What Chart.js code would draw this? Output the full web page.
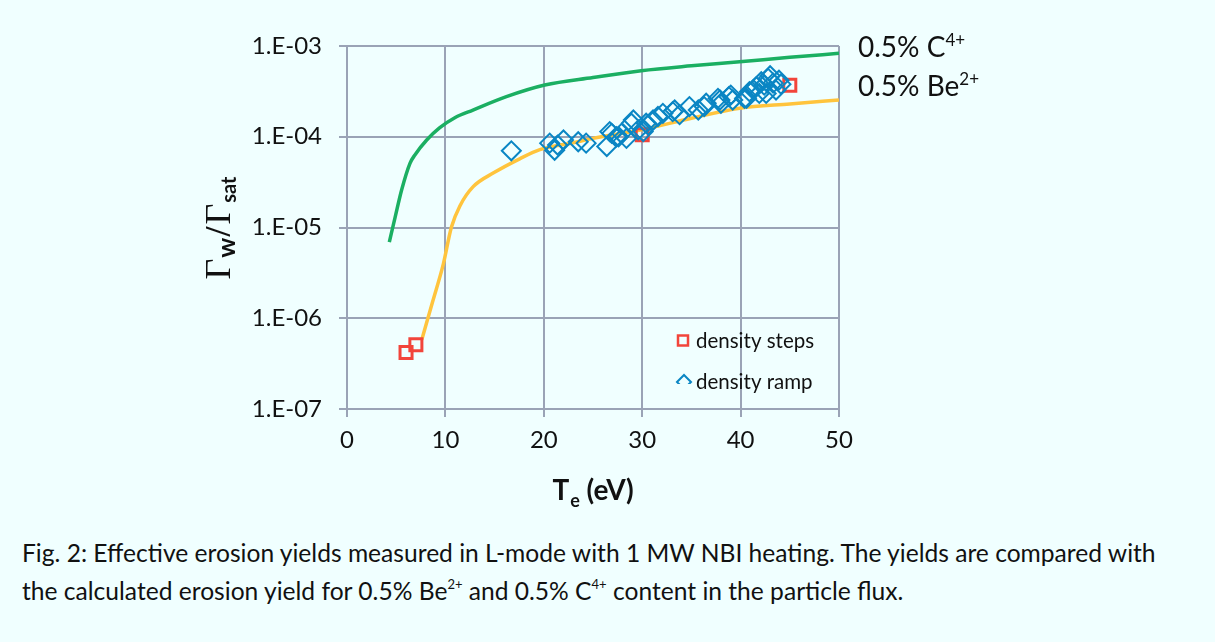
<!DOCTYPE html>
<html><head><meta charset="utf-8">
<script src="https://cdn.jsdelivr.net/npm/chart.js@4.4.0/dist/chart.umd.min.js"></script>
<style>
html,body{margin:0;padding:0;background:#F0FFFF;}
#wrap{position:relative;width:1215px;height:642px;background:#F0FFFF;overflow:hidden;}
#box{position:absolute;left:0;top:0;width:1215px;height:520px;}
#cap{position:absolute;left:22px;top:534px;font-family:Lato,"Open Sans",sans-serif;font-size:24.6px;line-height:38px;color:#111;white-space:nowrap;}
#cap sup{font-size:13px;vertical-align:11px;line-height:0;}
</style></head><body>
<div id="wrap">
<div id="box"><canvas id="c"></canvas></div>
<div id="cap">Fig. 2: Effective erosion yields measured in L-mode with 1 MW NBI heating. The yields are compared with<br>the calculated erosion yield for 0.5% Be<sup>2+</sup> and 0.5% C<sup>4+</sup> content in the particle flux.</div>
</div>
<script>
// ---- data ----
const xTickValues = [0, 10, 20, 30, 40, 50];
const yTickValues = [1e-7, 1e-6, 1e-5, 1e-4, 1e-3];
const yTickLabels = ['1.E-07', '1.E-06', '1.E-05', '1.E-04', '1.E-03'];

const cTe    = [4.3, 4.9, 5.55, 6.4, 6.9, 8.1, 9.4, 11, 12.8, 16.2, 20.1, 25, 29.9, 35, 39.9, 45, 50];
const cYield = [6.9e-6, 1.31e-5, 2.59e-5, 5.1e-5, 6.3e-5, 9.2e-5, 1.25e-4, 1.63e-4, 1.97e-4, 2.77e-4, 3.72e-4, 4.5e-4, 5.35e-4, 6.05e-4, 6.7e-4, 7.5e-4, 8.3e-4];

const beTe    = [7.6, 8.7, 9.8, 10.6, 11.5, 12.8, 14.9, 17.6, 19.6, 23, 25, 29.9, 35, 39.9, 45, 50];
const beYield = [5.8e-7, 1.52e-6, 4.0e-6, 1.0e-5, 1.75e-5, 2.8e-5, 4.0e-5, 5.75e-5, 7.2e-5, 8.6e-5, 9.6e-5, 1.19e-4, 1.6e-4, 2.06e-4, 2.3e-4, 2.54e-4];

const stepsTe    = [6.0, 7.0, 30.0, 45.0];
const stepsYield = [4.2e-7, 5.1e-7, 1.05e-4, 3.7e-4];

const rampTe    = [16.7, 20.6, 21.1, 21.4, 22.0, 23.5, 24.3, 26.4, 26.7, 26.9, 27.4, 27.6, 27.9, 28.4, 28.9, 29.1, 29.6, 30.1, 30.4, 30.6, 31.1, 31.6, 32.1, 33.1, 33.3, 33.8, 34.8, 35.7, 36.3, 36.5, 37.7, 37.9, 38.0, 38.8, 39.0, 39.2, 40.4, 40.6, 40.9, 41.3, 41.6, 41.9, 42.1, 42.4, 42.6, 42.8, 43.0, 43.3, 43.6, 43.9, 44.1];
const rampYield = [7.0e-5, 8.5e-5, 7.1e-5, 8.1e-5, 9.2e-5, 8.8e-5, 8.5e-5, 7.8e-5, 1.14e-4, 1.09e-4, 1.0e-4, 1.0e-4, 1.09e-4, 9.6e-5, 1.41e-4, 1.53e-4, 1.19e-4, 1.14e-4, 1.41e-4, 1.35e-4, 1.53e-4, 1.67e-4, 1.81e-4, 1.89e-4, 1.97e-4, 1.75e-4, 2.15e-4, 1.97e-4, 2.15e-4, 2.34e-4, 2.65e-4, 2.54e-4, 2.34e-4, 2.77e-4, 2.88e-4, 2.54e-4, 2.65e-4, 2.65e-4, 3.14e-4, 3.3e-4, 3.56e-4, 3.0e-4, 4.04e-4, 3.7e-4, 3.0e-4, 4.4e-4, 4.7e-4, 3.9e-4, 3.27e-4, 4.2e-4, 3.8e-4];

const pts = (xs, ys) => xs.map((x, i) => ({x: x, y: ys[i]}));

const GRID = '#9AA3B6';
const FONT = 'Lato, "Open Sans", sans-serif';
const TXT = '#111';

function drawParts(ctx, parts, x, y, align) {
  let w = 0;
  parts.forEach(p => { ctx.font = p.font; p.w = ctx.measureText(p.t).width + (p.gap || 0); w += p.w; });
  let cx = align === 'center' ? x - w / 2 : x;
  parts.forEach(p => { ctx.font = p.font; ctx.fillText(p.t, cx, y + (p.dy || 0)); cx += p.w; });
}

const textPlugin = {
  id: 'texts',
  afterDraw(chart) {
    const ctx = chart.ctx, a = chart.chartArea;
    ctx.save();
    ctx.fillStyle = TXT;
    ctx.textBaseline = 'alphabetic';
    // y title
    ctx.save();
    ctx.translate(230, 228);
    ctx.rotate(-Math.PI / 2);
    drawParts(ctx, [
      {t: 'Γ', font: '36px "Liberation Serif", serif', gap: 1},
      {t: 'w', font: 'bold 25px ' + FONT, dy: 5, gap: 1},
      {t: '/', font: 'bold 36px "Liberation Serif", serif', gap: 2},
      {t: 'Γ', font: '36px "Liberation Serif", serif', gap: 1},
      {t: 'sat', font: 'bold 20px ' + FONT, dy: 6}
    ], 0, 0, 'center');
    ctx.restore();
    // x title
    drawParts(ctx, [
      {t: 'T', font: 'bold 28px ' + FONT, gap: 1},
      {t: 'e', font: 'bold 18px ' + FONT, dy: 7},
      {t: ' (eV)', font: 'bold 28px ' + FONT}
    ], (a.left + a.right) / 2, 500, 'center');
    // series labels at right
    drawParts(ctx, [
      {t: '0.5% C', font: '28px ' + FONT},
      {t: '4+', font: '17px ' + FONT, dy: -11}
    ], a.right + 19, 57, 'left');
    drawParts(ctx, [
      {t: '0.5% Be', font: '28px ' + FONT},
      {t: '2+', font: '17px ' + FONT, dy: -11}
    ], a.right + 19, 96, 'left');
    // legend
    const ds = chart.data.datasets;
    ctx.font = '20.5px ' + FONT;
    ctx.textBaseline = 'middle';
    ctx.fillText(ds[1].label, 696, 341);
    ctx.fillText(ds[0].label, 696, 382);
    ctx.strokeStyle = ds[1].borderColor; ctx.lineWidth = 2.5;
    ctx.strokeRect(678, 335.5, 10, 10);
    ctx.save();
    ctx.beginPath(); ctx.rect(670, 360, 30, 24); ctx.clip();
    ctx.strokeStyle = ds[0].borderColor; ctx.lineWidth = 2;
    ctx.beginPath();
    ctx.moveTo(677, 382); ctx.lineTo(684, 375); ctx.lineTo(691, 382); ctx.lineTo(684, 389); ctx.closePath();
    ctx.stroke();
    ctx.restore();
    ctx.restore();
  }
};

new Chart(document.getElementById('c'), {
  type: 'scatter',
  data: {
    datasets: [
      {label: 'density ramp', data: pts(rampTe, rampYield), pointStyle: 'rectRot', pointRadius: 9.5, pointBorderWidth: 2,
       borderColor: '#0A86C4', backgroundColor: 'rgba(0,0,0,0)', showLine: false, order: 0},
      {label: 'density steps', data: pts(stepsTe, stepsYield), pointStyle: 'rect', pointRadius: 8.5, pointBorderWidth: 3,
       borderColor: '#F2453B', backgroundColor: 'rgba(0,0,0,0)', showLine: false, order: 1},
      {label: '0.5% C4+', data: pts(cTe, cYield), showLine: true, pointRadius: 0, borderWidth: 3.5,
       borderColor: '#1BAF62', cubicInterpolationMode: 'monotone', order: 3},
      {label: '0.5% Be2+', data: pts(beTe, beYield), showLine: true, pointRadius: 0, borderWidth: 3.5,
       borderColor: '#FFC43D', cubicInterpolationMode: 'monotone', order: 2}
    ]
  },
  options: {
    responsive: true, maintainAspectRatio: false, animation: false, devicePixelRatio: 1,
    layout: {padding: {left: 0, right: 376, top: 46, bottom: 0}},
    plugins: {legend: {display: false}, tooltip: {enabled: false}},
    scales: {
      x: {
        type: 'linear', min: 0, max: 50,
        afterBuildTicks: s => { s.ticks = xTickValues.map(v => ({value: v})); },
        afterFit: s => { s.height = 111; },
        ticks: {font: {family: FONT, size: 24}, color: TXT, padding: 9, maxRotation: 0},
        grid: {color: GRID, lineWidth: 2, tickLength: 8},
        border: {color: GRID, width: 2}
      },
      y: {
        type: 'logarithmic', min: 1e-7, max: 1e-3,
        afterBuildTicks: s => { s.ticks = yTickValues.map(v => ({value: v, major: true})); },
        afterFit: s => { s.width = 347; },
        ticks: {font: {family: FONT, size: 24}, color: TXT, padding: 17, autoSkip: false,
                callback: (v, i) => yTickLabels[i]},
        grid: {color: GRID, lineWidth: 2, tickLength: 8},
        border: {color: GRID, width: 2}
      }
    }
  },
  plugins: [textPlugin]
});
</script>
</body></html>
